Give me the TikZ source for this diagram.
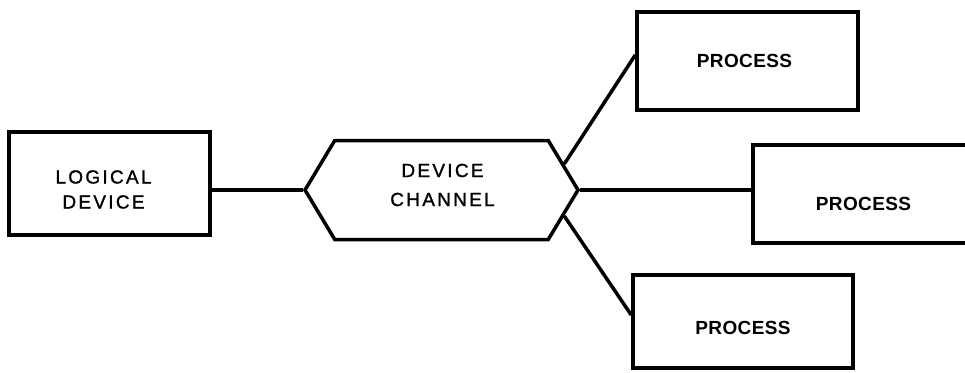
\documentclass[tikz,border=0pt]{standalone}
\usepackage{fontspec}
\setmainfont{Liberation Sans}
\newfontfamily\lblfont[LetterSpace=12,FakeBold=1.2]{Liberation Sans}
\newfontfamily\procfont[LetterSpace=2]{Liberation Sans}
\usetikzlibrary{shapes.symbols}
\begin{document}
\begin{tikzpicture}[x=1pt,y=-1pt,
  box/.style={draw, line width=3.5pt, rectangle, inner sep=0pt},
  lbltext/.style={font=\lblfont\fontsize{19}{25}\selectfont, align=center, inner sep=0pt},
  proctext/.style={font=\procfont\bfseries\fontsize{19}{23}\selectfont, inner sep=0pt},
  proc/.style={box, minimum width=221pt, minimum height=98pt},
  hexbox/.style={draw, line width=3.5pt, signal, signal to=west and east,
    signal pointer angle=118, inner sep=0pt},
  link/.style={line width=3.5pt}]
\clip (0,0) rectangle (965,372);

% logical device on the left
\node[box, minimum width=201pt, minimum height=103pt,
  label={[lbltext, xshift=-6pt, yshift=-6pt]center:LOGICAL\\DEVICE}] (ld) at (109.5,183.5) {};

% device channel in the middle
\node[hexbox, minimum width=273pt, minimum height=99pt,
  label={[lbltext, font=\lblfont\fontsize{19}{29}\selectfont, xshift=1pt, yshift=5pt]center:DEVICE\\CHANNEL}] (ch) at (441.5,190) {};

% processes on the right
\node[proc, label={[proctext, xshift=-3pt]center:PROCESS}] (p1) at (747.5,61) {};
\node[proc, minimum width=227pt, label={[proctext, xshift=-3pt, yshift=-10pt]center:PROCESS}] (p2) at (866.5,194) {};
\node[proc, minimum width=220pt, minimum height=93pt,
  label={[proctext, yshift=-6pt]center:PROCESS}] (p3) at (743,321.5) {};

% connections
\draw[link] (ld.east |- ch.west) -- (ch.west);
\draw[link] (ch.east) -- (ch.east -| p2.west);
\draw[link] (ch.12) -- ([yshift=6pt]p1.west);
\draw[link] (ch.-12) -- ([yshift=6.5pt]p3.west);
\end{tikzpicture}
\end{document}
